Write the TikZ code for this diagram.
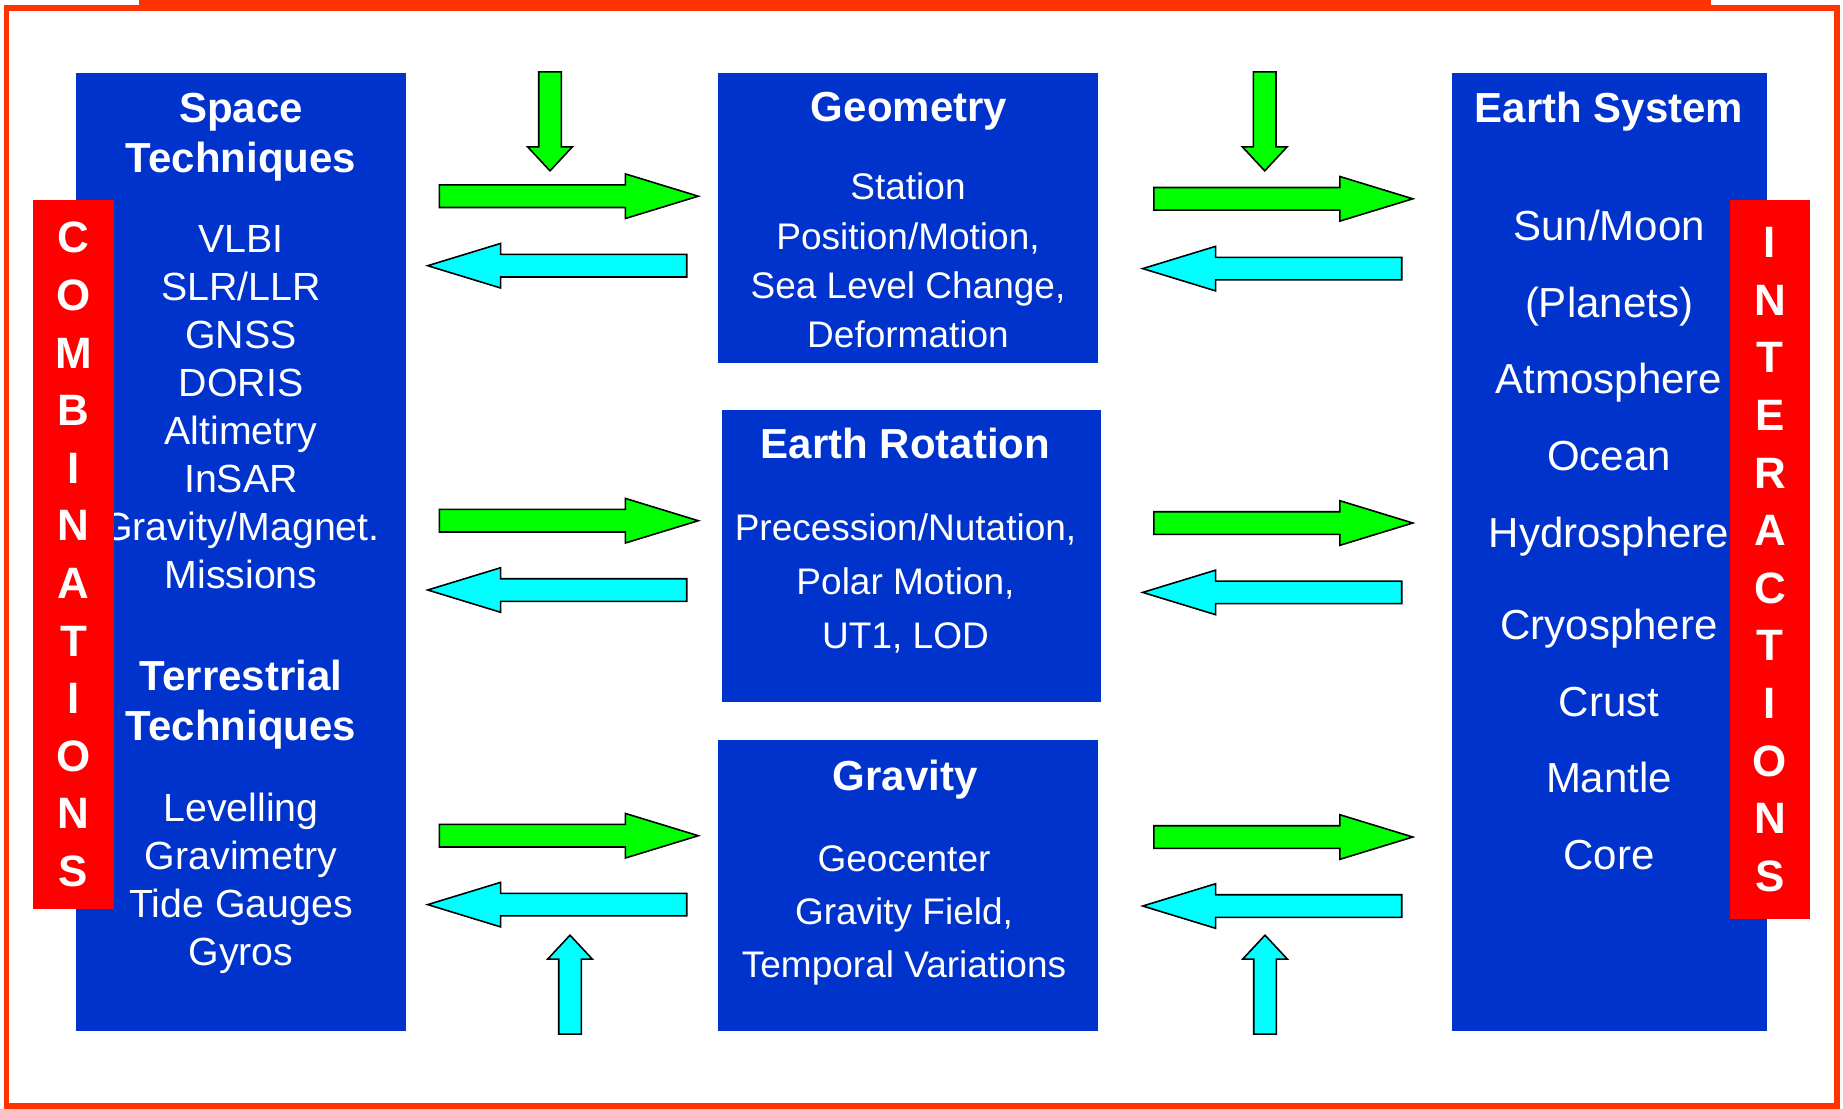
\documentclass[tikz,border=0pt]{standalone}
\usepackage{fontspec}
\setmainfont{Liberation Sans}
\usetikzlibrary{shapes.arrows}
\definecolor{boxblue}{HTML}{0033CC}
\definecolor{barred}{HTML}{FF0000}
\definecolor{framered}{HTML}{FF3300}
\definecolor{arrowgreen}{HTML}{00FF00}
\definecolor{arrowcyan}{HTML}{00FFFF}
\begin{document}
\begin{tikzpicture}[
  box/.style={fill=boxblue, inner sep=0pt},
  sidebar/.style={fill=barred, inner sep=0pt, text=white, align=center, font=\bfseries\fontsize{12.5}{16.39}\selectfont},
  head/.style={text=white, align=center, font=\bfseries\fontsize{11.95}{14.17}\selectfont},
  body/.style={text=white, align=center, font=\fontsize{10.53}{13.97}\selectfont},
  blockarrow/.style={single arrow, draw=black, line width=0.45pt, inner xsep=0pt, inner ysep=0.105cm, minimum width=0.43cm, single arrow head extend=0.11cm, anchor=tip},
  across/.style={blockarrow, minimum height=2.59cm, single arrow tip angle=34},
  updown/.style={blockarrow, minimum height=0.99cm, single arrow tip angle=86},
  fwd/.style={fill=arrowgreen},
  back/.style={fill=arrowcyan},
]
\useasboundingbox (0,0) rectangle (18.43,-11.08);
\fill[framered] (1.39,0) rectangle (17.11,-0.11);
\draw[framered, line width=0.055cm] (0.065,-0.082) rectangle (18.37,-11.06);

\node[box, minimum width=3.30cm, minimum height=9.58cm] (tech) at (2.41,-5.52) {};
\node[box, minimum width=3.80cm, minimum height=2.90cm] (geom) at (9.08,-2.18) {};
\node[box, minimum width=3.79cm, minimum height=2.92cm] (rot) at (9.115,-5.56) {};
\node[box, minimum width=3.80cm, minimum height=2.91cm] (grav) at (9.08,-8.855) {};
\node[box, minimum width=3.15cm, minimum height=9.58cm] (earth) at (16.095,-5.52) {};

\node[head] (spacehead) at (2.41,-1.375) {Space\\Techniques};
\node[body, font=\fontsize{11.18}{13.66}\selectfont] (spacelist) at (2.41,-4.07) {VLBI\\SLR/LLR\\GNSS\\DORIS\\Altimetry\\InSAR\\Gravity/Magnet.\\Missions};
\node[head] (terrhead) at (2.41,-7.045) {Terrestrial\\Techniques};
\node[body, font=\fontsize{11.18}{13.66}\selectfont] (terrlist) at (2.41,-8.83) {Levelling\\Gravimetry\\Tide Gauges\\Gyros};

\node[head, anchor=base] (geomhead) at (9.09,-1.215) {Geometry};
\node[body] (geomtext) at (9.08,-2.604) {Station\\Position/Motion,\\Sea Level Change,\\Deformation};
\node[head, anchor=base] (rothead) at (9.055,-4.58) {Earth Rotation};
\node[body, font=\fontsize{10.53}{15.36}\selectfont] (rottext) at (9.055,-5.83) {Precession/Nutation,\\Polar Motion,\\UT1, LOD};
\node[head, anchor=base] (gravhead) at (9.05,-7.90) {Gravity};
\node[body, font=\fontsize{10.53}{15.08}\selectfont] (gravtext) at (9.04,-9.155) {Geocenter\\Gravity Field,\\Temporal Variations};

\node[head, anchor=base] (earthhead) at (16.09,-1.225) {Earth System};
\node[body, font=\fontsize{11.95}{21.8}\selectfont] (earthlist) at (16.09,-5.40) {Sun/Moon\\(Planets)\\Atmosphere\\Ocean\\Hydrosphere\\[4.5pt]Cryosphere\\Crust\\Mantle\\Core};

\node[sidebar, minimum width=0.81cm, minimum height=7.09cm] (comb) at (0.735,-5.545) {C\\O\\M\\B\\I\\N\\A\\T\\I\\O\\N\\S};
\node[sidebar, minimum width=0.80cm, minimum height=7.19cm] (inter) at (17.70,-5.595) {I\\N\\T\\E\\R\\A\\C\\T\\I\\O\\N\\S};

\node[updown, fwd, rotate=-90] (downl) at (5.50,-1.72) {};
\node[across, fwd] (techgeom) at (7.01,-1.962) {};
\node[across, back, rotate=180] (geomtech) at (4.25,-2.657) {};
\node[across, fwd] (techrot) at (7.01,-5.207) {};
\node[across, back, rotate=180] (rottech) at (4.25,-5.90) {};
\node[across, fwd] (techgrav) at (7.01,-8.357) {};
\node[across, back, rotate=180] (gravtech) at (4.25,-9.046) {};
\node[updown, back, rotate=90] (upl) at (5.70,-9.34) {};

\node[updown, fwd, rotate=-90] (downr) at (12.647,-1.72) {};
\node[across, fwd] (geomearth) at (14.155,-1.988) {};
\node[across, back, rotate=180] (earthgeom) at (11.40,-2.686) {};
\node[across, fwd] (rotearth) at (14.155,-5.23) {};
\node[across, back, rotate=180] (earthrot) at (11.40,-5.924) {};
\node[across, fwd] (gravearth) at (14.155,-8.37) {};
\node[across, back, rotate=180] (earthgrav) at (11.40,-9.06) {};
\node[updown, back, rotate=90] (upr) at (12.65,-9.34) {};
\end{tikzpicture}
\end{document}
